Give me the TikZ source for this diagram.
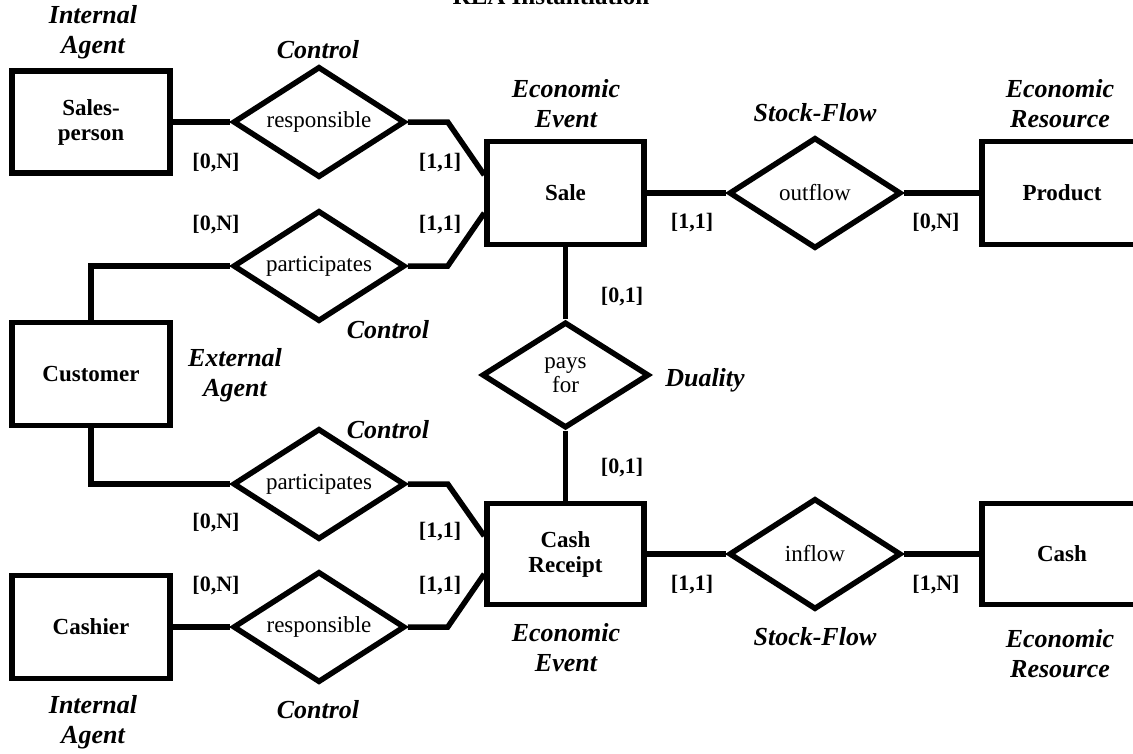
\documentclass[tikz,border=0pt]{standalone}
\usepackage{fontspec}
\setmainfont{Liberation Serif}
\usetikzlibrary{shapes.geometric,calc}
\tikzset{
  ent/.style={draw, line width=5.5pt, rectangle, inner sep=0pt, font=\fontsize{23}{25}\selectfont\bfseries, align=center},
  rel/.style={draw, line width=5.5pt, diamond, aspect=1.55, inner sep=0pt, font=\fontsize{23}{24}\selectfont, align=center, minimum width=172pt, minimum height=111pt},
  lab/.style={inner sep=0pt, font=\fontsize{26}{30}\selectfont\bfseries\itshape, align=center},
  card/.style={inner sep=0pt, font=\fontsize{22}{24}\selectfont\bfseries},
  ttl/.style={inner sep=0pt, font=\fontsize{25}{28}\selectfont\bfseries},
  conn/.style={line width=5.5pt}
}
\begin{document}
\begin{tikzpicture}[x=1pt,y=-1pt]
\useasboundingbox (0,0) rectangle (1133,753);
% title
\node[ttl, anchor=base] (title) at (551,4) {REA Instantiation};
% entities
\node[ent, minimum width=158pt, minimum height=102pt] (sp) at (91,122) {Sales-\\person};
\node[ent, minimum width=158pt, minimum height=103pt] (cust) at (91,374) {Customer};
\node[ent, minimum width=158pt, minimum height=103pt] (cashier) at (91,627) {Cashier};
\node[ent, minimum width=157pt, minimum height=103pt] (sale) at (565.5,193) {Sale};
\node[ent, minimum width=157pt, minimum height=101pt] (cr) at (565.5,554) {Cash\\Receipt};
\node[ent, minimum width=160pt, minimum height=103pt] (prod) at (1062,193) {Product};
\node[ent, minimum width=160pt, minimum height=101pt] (cash) at (1062,554) {Cash};
% relationships
\node[rel] (resp1) at (319,122) {responsible};
\node[rel] (part1) at (319,266) {participates};
\node[rel] (part2) at (319,484) {participates};
\node[rel] (resp2) at (319,627) {responsible};
\node[rel] (outflow) at (815,193) {outflow};
\node[rel, minimum width=167pt, minimum height=106pt] (pays) at (565.5,375) {pays\\for};
\node[rel] (inflow) at (815,554) {inflow};
% connectors
\draw[conn] (sp.east) -- (resp1.west);
\draw[conn] (resp1.east) -- ++(40,0) -- ($(sale.west)+(0,-18)$);
\draw[conn] (part1.east) -- ++(40,0) -- ($(sale.west)+(0,20)$);
\draw[conn] (cust.north) -- (cust.north |- part1.west) -- (part1.west);
\draw[conn] (cust.south) -- (cust.south |- part2.west) -- (part2.west);
\draw[conn] (part2.east) -- ++(40,0) -- ($(cr.west)+(0,-18)$);
\draw[conn] (resp2.east) -- ++(40,0) -- ($(cr.west)+(0,20)$);
\draw[conn] (cashier.east) -- (resp2.west);
\draw[conn] (sale.east) -- (outflow.west);
\draw[conn] (outflow.east) -- (prod.west);
\draw[conn] (sale.south) -- (pays.north);
\draw[conn] (pays.south) -- (cr.north);
\draw[conn] (cr.east) -- (inflow.west);
\draw[conn] (inflow.east) -- (cash.west);
% italic labels
\node[lab] (l1) at (93,32) {Internal\\Agent};
\node[lab] (l2) at (318,50) {Control};
\node[lab] (l3) at (566,104) {Economic\\Event};
\node[lab] (l4) at (815,113) {Stock-Flow};
\node[lab] (l5) at (1060,104) {Economic\\Resource};
\node[lab] (l6) at (388,330) {Control};
\node[lab] (l7) at (235,375) {External\\Agent};
\node[lab] (l8) at (705,380) {Duality};
\node[lab] (l9) at (388,430) {Control};
\node[lab] (l10) at (566,648) {Economic\\Event};
\node[lab] (l11) at (815,637) {Stock-Flow};
\node[lab] (l12) at (1060,654) {Economic\\Resource};
\node[lab] (l13) at (93,722) {Internal\\Agent};
\node[lab] (l14) at (318,710) {Control};
% cardinalities
\node[card] (c1) at (216,163) {[0,N]};
\node[card] (c2) at (440,163) {[1,1]};
\node[card] (c3) at (216,225) {[0,N]};
\node[card] (c4) at (440,225) {[1,1]};
\node[card] (c5) at (692,223) {[1,1]};
\node[card] (c6) at (936,223) {[0,N]};
\node[card] (c7) at (622,297) {[0,1]};
\node[card] (c8) at (622,468) {[0,1]};
\node[card] (c9) at (216,523) {[0,N]};
\node[card] (c10) at (440,532) {[1,1]};
\node[card] (c11) at (216,586) {[0,N]};
\node[card] (c12) at (440,586) {[1,1]};
\node[card] (c13) at (692,585) {[1,1]};
\node[card] (c14) at (936,585) {[1,N]};
\end{tikzpicture}
\end{document}
